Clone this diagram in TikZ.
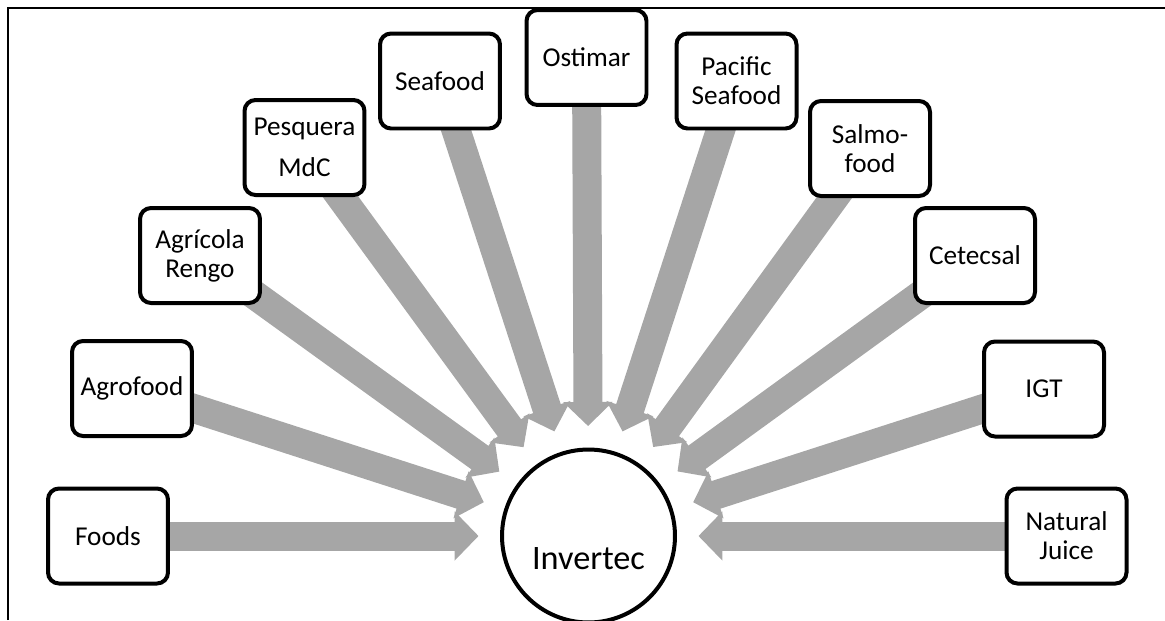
\documentclass[tikz,border=0pt]{standalone}
\usepackage{fontspec}
\setmainfont{Carlito}
\usetikzlibrary{arrows.meta, calc}
\usepackage{xcolor}
\definecolor{flowgray}{RGB}{166,166,166}
\pgfdeclarelayer{background}
\pgfsetlayers{background,main}
\def\tipsep{2.2cm}

\begin{document}
\begin{tikzpicture}[x=0.02cm, y=-0.02cm]
    \tikzstyle{partner}=[draw=black, line width=0.08cm, rounded corners=0.22cm, fill=white, minimum width=2.4cm, minimum height=1.9cm, align=center, inner sep=1pt, font=\fontsize{15.5}{16.5}\selectfont]
    \tikzstyle{hub}=[circle, draw=black, line width=0.08cm, fill=white, minimum size=3.46cm, inner sep=0pt]
    \tikzstyle{flow}=[draw=flowgray, line width=0.58cm, -{Triangle[length=0.48cm, width=0.96cm]}]
    \useasboundingbox (0,0) rectangle (1165,620);

    % Frame
    \draw[line width=0.035cm] (8,620) -- (8,8) -- (1165,8);

    % Draw the central node
    \node[hub] (invertec) at (588.5,536) {};
    \node[font=\fontsize{19.5}{22}\selectfont] (invertec-text) at ([yshift=-0.46cm]invertec.center) {Invertec};

    % Draw the partner nodes, left to right
    \node[partner] (foods) at (108,536) {Foods};
    \node[partner] (agrofood) at (132,388.5) {Agrofood};
    \node[partner] (agricola) at (200,255.5) {Agrícola\\Rengo};
    \node[partner] (pesquera) at (304.5,147.5) {Pesquera\\[0.24cm]MdC};
    \node[partner] (seafood) at (440,81) {Seafood};
    \node[partner] (ostimar) at (586.5,57.5) {Ostimar};
    \node[partner] (pacific) at (736.5,81) {Pacific\\Seafood};
    \node[partner] (salmofood) at (870,148.5) {Salmo-\\food};
    \node[partner] (cetecsal) at (975,255.5) {Cetecsal};
    \node[partner] (igt) at (1044,389) {IGT};
    \node[partner] (natural) at (1066.5,536) {Natural\\Juice};

    % Connect every partner with the central node
    \begin{pgfonlayer}{background}
    \foreach \name in {foods, agrofood, agricola, pesquera, seafood, ostimar, pacific, salmofood, cetecsal, igt, natural}
        \draw[flow] (\name.center) -- ($(invertec.center)!\tipsep!(\name.center)$);
    \end{pgfonlayer}
\end{tikzpicture}
\end{document}
